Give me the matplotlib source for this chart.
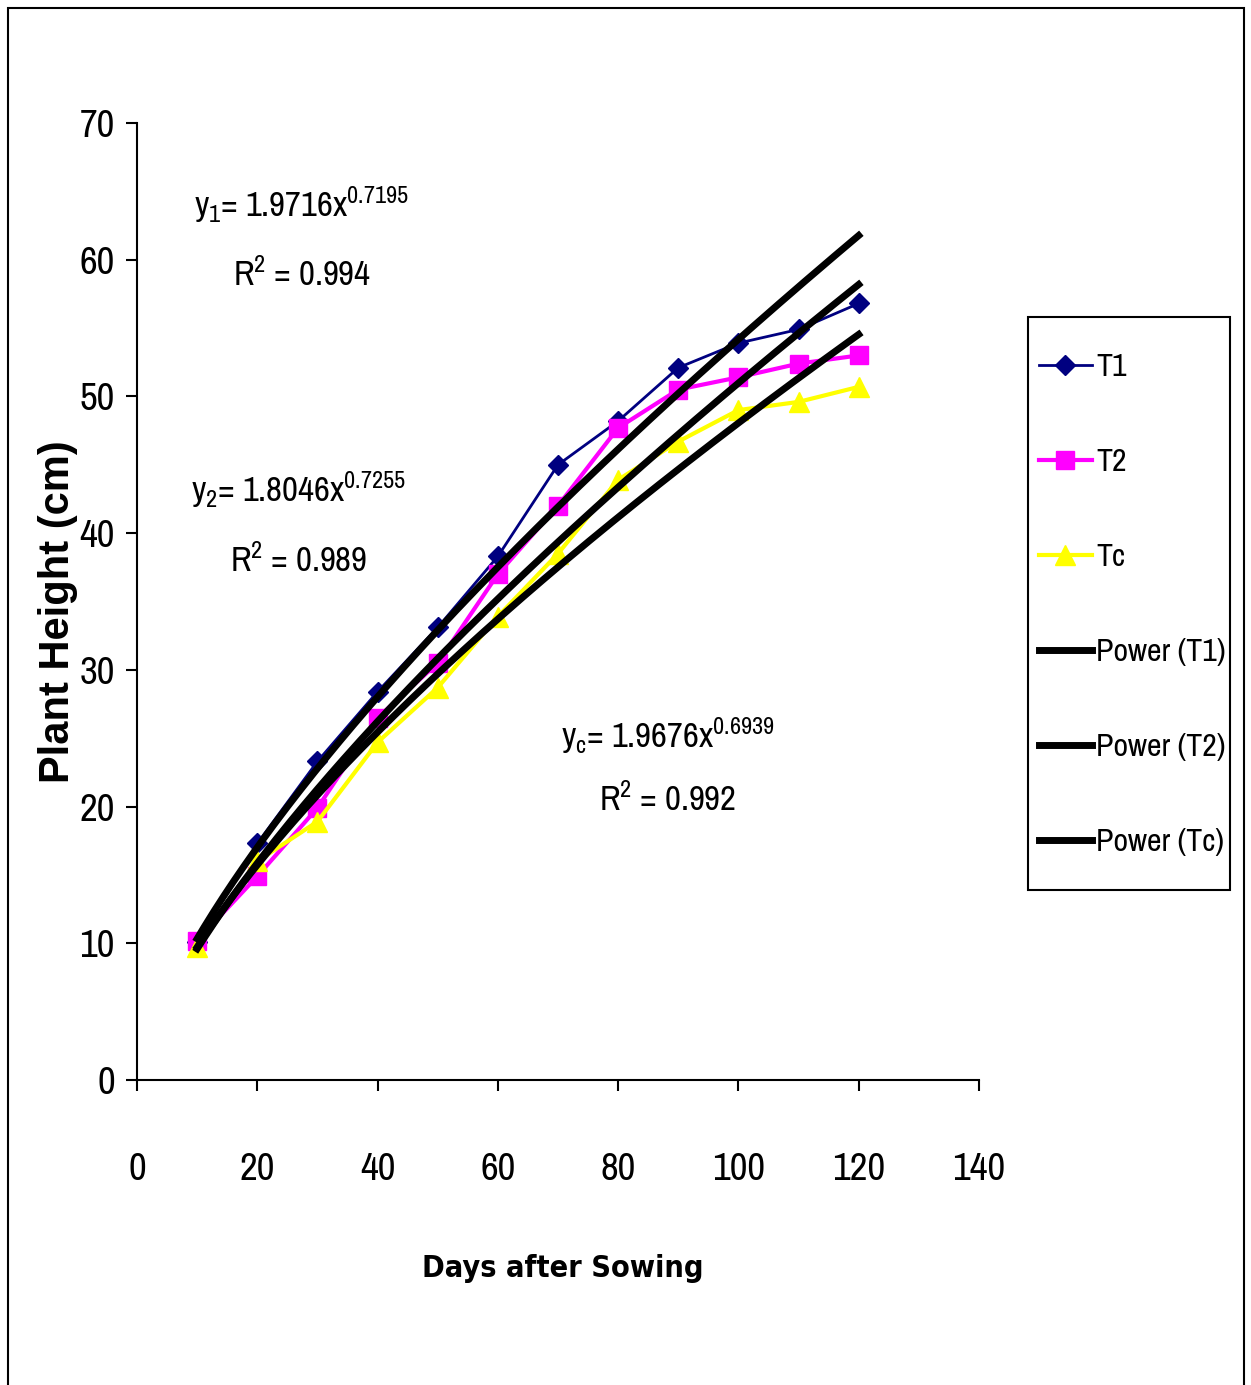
import numpy as np
import matplotlib.pyplot as plt
from matplotlib.patches import Rectangle

days = [10, 20, 30, 40, 50, 60, 70, 80, 90, 100, 110, 120]
t1 = [10.1, 17.3, 23.3, 28.4, 33.1, 38.3, 45.0, 48.2, 52.1, 53.9, 54.9, 56.8]
t2 = [10.2, 14.9, 19.9, 26.5, 30.5, 37.0, 42.0, 47.7, 50.5, 51.4, 52.4, 53.0]
tc = [9.7, 16.0, 18.9, 24.7, 28.7, 33.9, 38.5, 43.9, 46.7, 49.0, 49.6, 50.7]

# power trendline coefficients shown on the chart
fit_t1 = (1.9716, 0.7195)
fit_t2 = (1.8046, 0.7255)
fit_tc = (1.9676, 0.6939)

NARROW = ['Archivo Narrow', 'DejaVu Sans']
plt.rcParams['font.family'] = NARROW
plt.rcParams['mathtext.fontset'] = 'custom'
plt.rcParams['mathtext.rm'] = 'Archivo Narrow'
plt.rcParams['mathtext.it'] = 'Archivo Narrow'

fig = plt.figure(figsize=(12.51, 13.85), dpi=100)
W, H = 1251, 1385
ax = fig.add_axes([137 / W, 1 - 1080 / H, (979 - 137) / W, (1080 - 123) / H])

ax.plot(days, t1, color='#000080', lw=2, marker='D', ms=10, label='T1', zorder=3)
ax.plot(days, t2, color='#FF00FF', lw=3, marker='s', ms=13, label='T2', zorder=3)
ax.plot(days, tc, color='#FFFF00', lw=3, marker='^', ms=14, label='Tc', zorder=3)

xx = np.linspace(days[0], days[-1], 200)
for (a, b), name in zip([fit_t1, fit_t2, fit_tc], ['Power (T1)', 'Power (T2)', 'Power (Tc)']):
    ax.plot(xx, a * xx ** b, color='black', lw=5, label=name, zorder=4)

ax.set_xlim(0, 140)
ax.set_ylim(0, 70)
ax.set_xticks(range(0, 141, 20))
ax.set_yticks(range(0, 71, 10))
for s in ['top', 'right']:
    ax.spines[s].set_visible(False)
for s in ['left', 'bottom']:
    ax.spines[s].set_linewidth(1.5)
ax.tick_params(direction='out', length=8, width=1.5, labelsize=28)
ax.tick_params(axis='y', pad=8)
ax.tick_params(axis='x', pad=44)

ax.set_xlabel('Days after Sowing', fontsize=22, fontweight='bold', family='DejaVu Sans', stretch='condensed')
ax.xaxis.set_label_coords((563 - 137) / 842, (1080 - 1254) / 957)
ax.set_ylabel('Plant Height (cm)', fontsize=30, fontweight='bold', family=['Liberation Sans', 'DejaVu Sans'])
ax.yaxis.set_label_coords((78 - 137) / 842, (1080 - 612) / 957)

tk = dict(fontsize=25, ha='center', va='center')
ax.text(27.4, 64.0, r'y$_1$= 1.9716x$^{0.7195}$', **tk)
ax.text(27.4, 58.9, r'R$^2$ = 0.994', **tk)
ax.text(26.8, 43.2, r'y$_2$= 1.8046x$^{0.7255}$', **tk)
ax.text(26.8, 38.0, r'R$^2$ = 0.989', **tk)
ax.text(88.3, 25.2, r'y$_\mathrm{c}$= 1.9676x$^{0.6939}$', **tk)
ax.text(88.3, 20.5, r'R$^2$ = 0.992', **tk)

leg = fig.legend(loc='upper left', bbox_to_anchor=(1039 / W, 1 - 353 / H), prop={'size': 23},
                 frameon=False, labelspacing=2.1, handlelength=1.65, handletextpad=0.15,
                 borderpad=0, borderaxespad=0)
fig.add_artist(Rectangle((1028 / W, 1 - 890 / H), (1230 - 1028) / W, (890 - 317) / H,
                         transform=fig.transFigure, fill=False, edgecolor='black', lw=1.5))

fig.add_artist(Rectangle((8 / W, -0.01), (1244 - 8) / W, 1 - 8 / H + 0.01, transform=fig.transFigure,
                         fill=False, edgecolor='black', lw=1.5))

fig.savefig('out.png', dpi=100)
